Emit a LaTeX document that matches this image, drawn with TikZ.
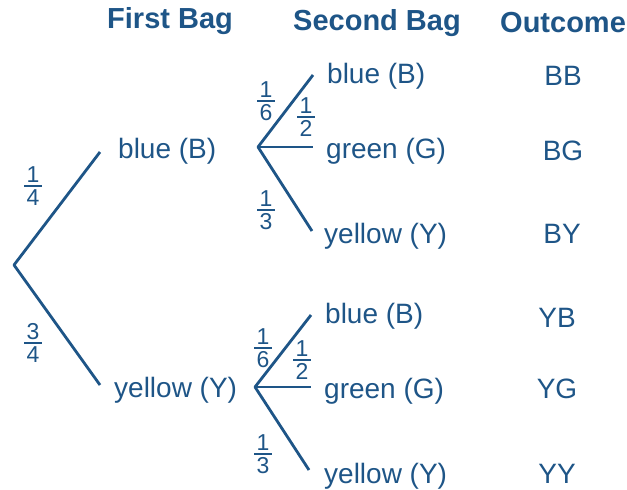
\documentclass[tikz,border=0pt]{standalone}
\usepackage{fontspec}
\setmainfont{Liberation Sans}
\definecolor{tblue}{RGB}{30,85,135}
\newcommand\fr[2]{\vbox{\offinterlineskip\halign{\hfil##\hfil\cr #1\cr\noalign{\kern2.5pt}\rule{0.75em}{2pt}\cr\noalign{\kern2.5pt}#2\cr}}}
\begin{document}
\begin{tikzpicture}[x=1pt,y=-1pt,
  br/.style={draw=tblue,line width=2.8pt},
  lab/.style={font=\fontsize{28}{30}\selectfont,text=tblue,inner sep=0pt,anchor=base west},
  hdr/.style={font=\fontsize{29}{30}\selectfont\bfseries,text=tblue,inner sep=0pt,anchor=base west},
  outc/.style={font=\fontsize{28}{30}\selectfont,text=tblue,inner sep=0pt,anchor=base},
  frc/.style={font=\fontsize{23}{24}\selectfont,text=tblue,inner sep=0pt}]
\useasboundingbox (0,0) rectangle (627,490);
% headers
\node[hdr] (h1) at (107,28) {First Bag};
\node[hdr] (h2) at (293,30) {Second Bag};
\node[hdr] (h3) at (500,32) {Outcome};
% first level
\coordinate (r) at (14,265);
\coordinate (u) at (100,152);
\coordinate (l) at (100,385);
\draw[br,line join=round] (u) -- (r) -- (l);
\node[frc] (f14) at (33,186) {\fr{1}{4}};
\node[frc] (f34) at (33,343) {\fr{3}{4}};
\node[lab] (b1) at (118,158) {blue (B)};
\node[lab] (y1) at (114,397) {yellow (Y)};
% upper second level
\coordinate (uo) at (258,147);
\coordinate (ua) at (313,75);
\coordinate (ub) at (313,147);
\coordinate (uc) at (312,231);
\draw[br,line join=round] (ua) -- (uo) -- (uc);
\draw[br] (uo) -- (ub);
\node[frc] (u16) at (266,101) {\fr{1}{6}};
\node[frc] (u12) at (306,117) {\fr{1}{2}};
\node[frc] (u13) at (266,210) {\fr{1}{3}};
\node[lab] (ubl) at (327,83) {blue (B)};
\node[lab] (ugr) at (326,158) {green (G)};
\node[lab] (uye) at (324,243) {yellow (Y)};
% lower second level
\coordinate (lo) at (255,387);
\coordinate (la) at (311,315);
\coordinate (lb) at (311,387);
\coordinate (lc) at (309,470);
\draw[br,line join=round] (la) -- (lo) -- (lc);
\draw[br] (lo) -- (lb);
\node[frc] (l16) at (263,348) {\fr{1}{6}};
\node[frc] (l12) at (302,360) {\fr{1}{2}};
\node[frc] (l13) at (263,454) {\fr{1}{3}};
\node[lab] (lbl) at (325,323) {blue (B)};
\node[lab] (lgr) at (324,398) {green (G)};
\node[lab] (lye) at (324,483) {yellow (Y)};
% outcomes
\node[outc] (o1) at (563,85) {BB};
\node[outc] (o2) at (563,160) {BG};
\node[outc] (o3) at (562,243) {BY};
\node[outc] (o4) at (557,327) {YB};
\node[outc] (o5) at (557,398) {YG};
\node[outc] (o6) at (557,483) {YY};
\end{tikzpicture}
\end{document}
